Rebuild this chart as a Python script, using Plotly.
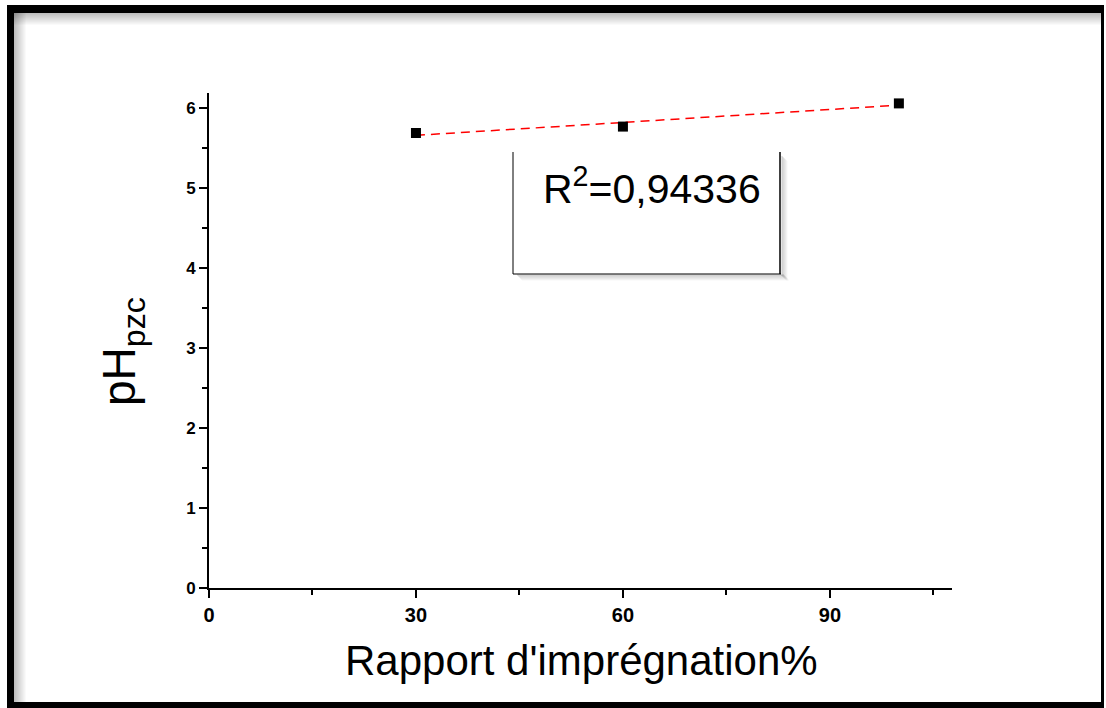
import numpy as np
import plotly.graph_objects as go

# Impregnation ratio (%) and measured pH at the point of zero charge
ratio = [30, 60, 100]
ph_pzc = [5.69, 5.77, 6.06]

x_ticks = [0, 30, 60, 90]
y_ticks = [0, 1, 2, 3, 4, 5, 6]
r2_label = "R<sup>2</sup>=0,94336"

# Least-squares straight line through the measurements
slope, intercept = np.polyfit(ratio, ph_pzc, 1)
fit_x = [min(ratio), max(ratio)]
fit_y = [slope * v + intercept for v in fit_x]

W, H = 1106, 708
L, R, T, B = 209, 952, 93, 588  # plot-area edges in pixels


def px(xp):
    return (xp - L) / (R - L)


def py(yp):
    return (B - yp) / (B - T)


fig = go.Figure()

fig.add_trace(go.Scatter(
    x=fit_x, y=fit_y, mode="lines",
    line=dict(color="#ff0000", width=1.5, dash="9px,6px"),
    hoverinfo="skip", showlegend=False,
))
fig.add_trace(go.Scatter(
    x=ratio, y=ph_pzc, mode="markers",
    marker=dict(symbol="square", size=10, color="black"),
    showlegend=False,
))

shapes = []


def rect(x0, y0, x1, y1, color, opacity=1.0):
    shapes.append(dict(
        type="rect", xref="paper", yref="paper",
        x0=px(x0), x1=px(x1), y0=py(y1), y1=py(y0),
        fillcolor=color, line=dict(width=0), opacity=opacity, layer="above",
    ))


# inner soft shadow along the top and left of the frame
for i in range(12):
    a = 0.32 * (1 - i / 12)
    rect(14, 13 + i, 1102, 14 + i, "#000000", a * 0.8)
    rect(14 + i, 13, 15 + i, 702, "#000000", a * 0.8)

# heavy black frame
rect(7, 5, 1104, 13, "black")
rect(7, 5, 14, 708, "black")
rect(1101, 13, 1104, 708, "black")
rect(7, 702, 1104, 708, "black")

# text box with its drop shadow
for i in range(6):
    a = 0.10 * (1 - i / 6)
    rect(517 + i, 274 + i, 784 + i, 276 + i, "#000000", a)
    rect(781 + i, 156 + i, 783 + i, 276 + i, "#000000", a)
rect(513, 152, 781, 274, "white")
shapes.append(dict(type="line", xref="paper", yref="paper",
                   x0=px(513), x1=px(513), y0=py(152), y1=py(274),
                   line=dict(color="black", width=1)))
shapes.append(dict(type="line", xref="paper", yref="paper",
                   x0=px(513), x1=px(781), y0=py(274), y1=py(274),
                   line=dict(color="black", width=1.2)))
shapes.append(dict(type="line", xref="paper", yref="paper",
                   x0=px(780), x1=px(780), y0=py(152), y1=py(274),
                   line=dict(color="black", width=1.5)))

annotations = [
    dict(text=r2_label, xref="paper", yref="paper", x=px(541), y=py(186),
         xanchor="left", yanchor="middle", showarrow=False,
         font=dict(family="Liberation Sans, Arial", size=41, color="black")),
    dict(text="pH<sub>pzc</sub>", xref="paper", yref="paper",
         x=px(122), y=py(352), xanchor="center", yanchor="middle",
         textangle=-90, showarrow=False,
         font=dict(family="Liberation Sans, Arial", size=46, color="black")),
    dict(text="Rapport d'imprégnation%", xref="paper", yref="paper",
         x=px(581), y=py(660), xanchor="center", yanchor="middle",
         showarrow=False,
         font=dict(family="Liberation Sans, Arial", size=42, color="black")),
]

fig.update_layout(
    width=W, height=H,
    margin=dict(l=L, r=W - R, t=T, b=H - B, pad=0),
    paper_bgcolor="white", plot_bgcolor="white",
    shapes=shapes, annotations=annotations,
    xaxis=dict(
        range=[0, 107.7], tickvals=x_ticks, ticktext=[str(v) for v in x_ticks],
        showgrid=False, zeroline=False, showline=True, linecolor="black",
        linewidth=2, ticks="outside", ticklen=8, tickwidth=1.5,
        tickcolor="black",
        minor=dict(tickvals=[15, 45, 75, 105], ticks="outside", ticklen=5,
                   tickwidth=1.5, tickcolor="black"),
        tickfont=dict(family="Liberation Sans Narrow, Liberation Sans, Arial",
                      size=20, color="black", weight="bold"),
    ),
    yaxis=dict(
        range=[0, 6.19], tickvals=y_ticks, ticktext=[str(v) for v in y_ticks],
        showgrid=False, zeroline=False, showline=True, linecolor="black",
        linewidth=2, ticks="outside", ticklen=8, tickwidth=1.5,
        tickcolor="black",
        minor=dict(tickvals=[0.5, 1.5, 2.5, 3.5, 4.5, 5.5], ticks="outside",
                   ticklen=5, tickwidth=1.5, tickcolor="black"),
        tickfont=dict(family="Liberation Sans, Arial", size=17, color="black",
                      weight="bold"),
    ),
)

fig.write_html("out.html")
